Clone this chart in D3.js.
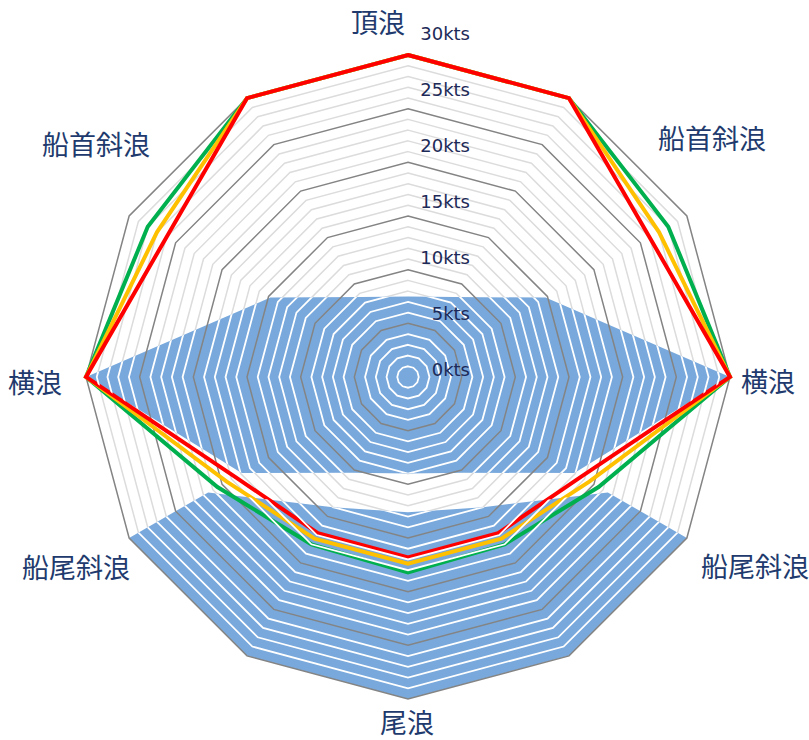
<!DOCTYPE html>
<html><head><meta charset="utf-8">
<script src="https://cdn.jsdelivr.net/npm/d3@7"></script>
<style>html,body{margin:0;padding:0;background:#fff;}svg{display:block;}</style>
</head><body>
<script>
// ---- data ----
const categories = ["頂浪","30°","船首斜浪","横浪","120°","150°","尾浪","210°","240°","横浪","船首斜浪","330°"];
const tickValues = [0,5,10,15,20,25,30];
const tickLabels = ["0kts","5kts","10kts","15kts","20kts","25kts","30kts"];
const seriesGreen  = [30,30,28,30,20.5,18,18.2,18,20.5,30,28,30];
const seriesYellow = [30,30,27,30,19.5,17.4,17.4,17.4,19.5,30,27,30];
const seriesRed    = [30,30,26,30,18.6,16.8,16.8,16.8,18.6,30,26,30];
const bandUpper = [7.5,8.6,14.8,30,17.9,10.3,9,10.3,17.9,30,14.8,8.6];
const bandLowerIdx   = [4,5,6,7,8];
const bandLowerInner = [21.5,14,12.6,14,21.5];
const bandLowerOuter = [30,30,30,30,30];
const labelTexts = ["頂浪","船首斜浪","横浪","船尾斜浪","尾浪","船尾斜浪","横浪","船首斜浪"];

// ---- layout ----
const W=809,H=740,cx=408,cy=377,R=322;
const labelPos=[[378,21],[712,137],[768,380],[755,565],[407,721],[76,566],[35,381],[96,143]];
const svg=d3.select("body").append("svg").attr("width",W).attr("height",H);
const defs=svg.append("defs");
defs.append("filter").attr("id","soft").append("feGaussianBlur").attr("stdDeviation",0.7);

const n=categories.length;
const r=d3.scaleLinear().domain([0,30]).range([0,R]);
const ang=d3.scaleLinear().domain([0,n]).range([0,2*Math.PI]);
const g=svg.append("g").attr("transform",`translate(${cx},${cy})`);

const radial=d3.lineRadial().angle((d,i)=>ang(i)).radius(d=>r(d)).curve(d3.curveLinearClosed);
const ringVals=d3.range(1,31);
const ringPath=v=>radial(d3.range(n).map(()=>v));

// fine rings on white
g.append("g").selectAll("path").data(ringVals.filter(v=>v%5)).join("path")
  .attr("d",ringPath).attr("fill","none").attr("stroke","#dcdcdc").attr("stroke-width",1.5);

// blue shapes
const upperD=radial(bandUpper);
const lowerD=d3.areaRadial().angle((d,i)=>ang(bandLowerIdx[i]))
  .innerRadius((d,i)=>r(bandLowerInner[i])).outerRadius((d,i)=>r(bandLowerOuter[i]))
  .curve(d3.curveLinear)(bandLowerIdx);
const clip=defs.append("clipPath").attr("id","blueclip");
clip.append("path").attr("d",upperD).attr("transform",`translate(${cx},${cy})`);
clip.append("path").attr("d",lowerD).attr("transform",`translate(${cx},${cy})`);
const blue=g.append("g").attr("filter","url(#soft)");
blue.append("path").attr("d",upperD).attr("fill","#79a9dc");
blue.append("path").attr("d",lowerD).attr("fill","#79a9dc");

// white rings on blue
svg.append("g").attr("clip-path","url(#blueclip)").append("g").attr("transform",`translate(${cx},${cy})`)
  .selectAll("path").data(ringVals.filter(v=>v%5)).join("path")
  .attr("d",ringPath).attr("fill","none").attr("stroke","#ffffff").attr("stroke-width",1.8);

// major rings
g.append("g").selectAll("path").data(tickValues.filter(v=>v>0)).join("path")
  .attr("d",ringPath).attr("fill","none").attr("stroke","#848484").attr("stroke-width",1.5);

// series
const series=[{v:seriesGreen,c:"#00b04f"},{v:seriesYellow,c:"#ffc000"},{v:seriesRed,c:"#ff0000"}];
g.append("g").selectAll("path").data(series).join("path")
  .attr("d",d=>radial(d.v)).attr("fill","none").attr("stroke",d=>d.c)
  .attr("stroke-width",4).attr("stroke-linejoin","miter");

// tick labels
const ty=d3.scaleLinear().domain([0,30]).range([376,39.5]);
svg.append("g").selectAll("text").data(tickValues).join("text")
  .attr("x",470).attr("y",d=>ty(d)).attr("text-anchor","end")
  .attr("font-family","DejaVu Sans").attr("font-size",18).attr("fill","#1d2a58")
  .text((d,i)=>tickLabels[i]);

// category labels
svg.append("g").selectAll("text").data(labelTexts).join("text")
  .attr("x",(d,i)=>labelPos[i][0]).attr("y",(d,i)=>labelPos[i][1])
  .attr("text-anchor","middle").attr("dominant-baseline","central")
  .attr("font-family","Noto Sans CJK JP").attr("font-size",27).attr("fill","#213a6d")
  .text(d=>d);
</script>
</body></html>
